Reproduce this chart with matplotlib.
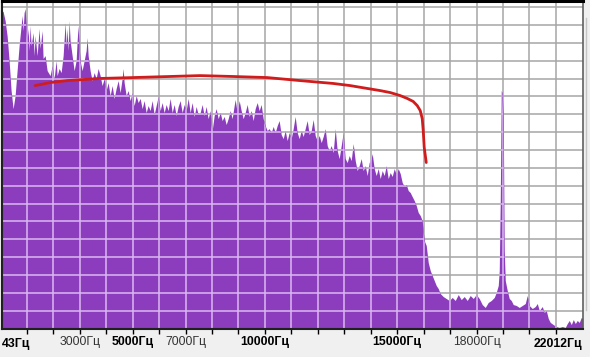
import matplotlib
matplotlib.use("Agg")
import matplotlib.pyplot as plt
from matplotlib.lines import Line2D

# spectrum: frequency (Hz) and level (grid divisions above the floor)
spec_hz = [
    43, 104, 180, 255, 331, 406, 482, 558, 633, 709, 785, 822, 860, 898, 936, 974,
    1011, 1049, 1087, 1125, 1163, 1238, 1276, 1314, 1390, 1465, 1503, 1579, 1616, 1692, 1768, 1881,
    1957, 2032, 2108, 2146, 2221, 2297, 2373, 2448, 2486, 2524, 2562, 2600, 2637, 2713, 2788, 2864,
    2902, 2940, 2978, 3015, 3091, 3167, 3242, 3280, 3318, 3393, 3469, 3545, 3620, 3696, 3772, 3847,
    3923, 3998, 4074, 4150, 4225, 4301, 4377, 4452, 4528, 4603, 4641, 4679, 4755, 4830, 4906, 4981,
    5057, 5133, 5208, 5284, 5360, 5435, 5511, 5586, 5662, 5738, 5813, 5889, 5965, 6040, 6116, 6191,
    6267, 6343, 6418, 6494, 6570, 6645, 6721, 6796, 6872, 6948, 7023, 7099, 7174, 7250, 7326, 7401,
    7477, 7553, 7628, 7704, 7779, 7855, 7931, 8006, 8082, 8157, 8233, 8309, 8384, 8460, 8536, 8611,
    8687, 8762, 8838, 8876, 8951, 9027, 9103, 9178, 9254, 9330, 9405, 9481, 9556, 9632, 9708, 9783,
    9859, 9934, 10010, 10086, 10161, 10237, 10313, 10388, 10464, 10539, 10615, 10691, 10766, 10842, 10917, 10993,
    11069, 11144, 11220, 11296, 11371, 11447, 11522, 11598, 11674, 11749, 11825, 11901, 11976, 12052, 12127, 12203,
    12279, 12354, 12430, 12505, 12581, 12657, 12732, 12808, 12884, 12959, 13035, 13110, 13186, 13262, 13337, 13413,
    13489, 13564, 13640, 13715, 13791, 13867, 13942, 14018, 14056, 14131, 14207, 14283, 14358, 14434, 14510, 14585,
    14661, 14736, 14812, 14888, 14963, 15039, 15115, 15190, 15266, 15341, 15417, 15493, 15568, 15644, 15720, 15795,
    15871, 15946, 16022, 16098, 16173, 16249, 16324, 16400, 16476, 16551, 16627, 16740, 16854, 16967, 17081, 17194,
    17308, 17421, 17534, 17648, 17761, 17875, 17988, 18101, 18215, 18328, 18442, 18555, 18669, 18744, 18820, 18858,
    18896, 18933, 18971, 19009, 19047, 19085, 19160, 19236, 19311, 19387, 19501, 19614, 19728, 19841, 19917, 19992,
    20106, 20219, 20295, 20371, 20484, 20560, 20635, 20711, 20786, 20900, 21013, 21127, 21240, 21354, 21429, 21505,
    21581, 21656, 21732, 21807, 21883, 21959, 22012,
]
spec_level = [
    17.82, 17.76, 17.25, 16.41, 15.01, 13.33, 12.32, 13.05, 14.45, 15.85, 16.97, 17.54, 16.69, 17.70, 17.93, 16.97,
    16.13, 16.81, 15.57, 16.97, 15.85, 16.58, 15.29, 16.41, 15.29, 16.81, 15.69, 16.69, 15.13, 15.29, 14.45, 14.17,
    14.73, 14.01, 15.01, 14.17, 14.57, 14.34, 15.29, 17.14, 15.85, 16.81, 15.57, 17.25, 16.13, 15.29, 14.45, 15.01,
    16.13, 16.97, 15.85, 15.01, 14.45, 15.01, 15.57, 16.30, 15.29, 14.45, 13.89, 14.34, 14.01, 14.57, 14.17, 13.61,
    14.01, 13.33, 13.78, 13.05, 13.61, 12.89, 13.45, 13.89, 13.22, 14.01, 14.57, 13.78, 13.05, 13.33, 12.77, 13.22,
    12.49, 13.05, 12.66, 12.89, 12.32, 12.77, 12.10, 12.49, 12.21, 12.77, 11.99, 12.49, 13.00, 12.21, 12.66, 12.10,
    12.55, 12.21, 12.89, 12.10, 12.55, 11.93, 12.44, 12.77, 12.10, 12.55, 12.21, 12.89, 12.10, 12.66, 11.88, 12.44,
    11.99, 12.10, 12.55, 11.93, 12.44, 11.76, 12.21, 11.09, 11.93, 12.32, 11.76, 12.10, 11.65, 11.88, 11.43, 11.76,
    12.21, 11.76, 12.49, 12.83, 12.10, 12.77, 12.21, 11.76, 12.10, 12.55, 11.88, 12.21, 11.65, 12.32, 12.66, 12.21,
    12.55, 11.76, 11.37, 11.09, 11.20, 10.98, 11.32, 10.98, 11.37, 11.65, 10.87, 10.64, 11.09, 10.53, 10.98, 10.64,
    11.20, 11.88, 10.98, 10.64, 11.09, 10.76, 11.20, 11.65, 10.87, 11.09, 11.71, 10.81, 10.53, 10.81, 10.42, 10.76,
    11.20, 10.25, 9.97, 10.25, 9.86, 11.20, 9.97, 9.52, 10.25, 10.98, 9.52, 9.30, 9.69, 9.41, 10.36, 9.41,
    8.85, 9.13, 9.52, 8.85, 9.13, 8.57, 9.30, 9.52, 9.80, 8.96, 8.57, 8.96, 8.40, 8.85, 8.57, 9.13,
    8.40, 8.74, 8.52, 8.96, 8.63, 8.96, 8.68, 8.18, 7.96, 8.07, 7.73, 7.62, 7.39, 7.17, 6.89, 6.50,
    6.33, 6.05, 4.93, 4.65, 3.70, 3.25, 2.97, 2.69, 2.41, 2.24, 1.96, 1.79, 1.68, 1.57, 1.74, 1.57,
    1.90, 1.62, 1.79, 1.57, 1.85, 1.68, 1.90, 1.68, 1.34, 1.18, 1.46, 1.57, 1.74, 2.02, 2.41, 3.25,
    7.17, 13.33, 13.22, 11.82, 4.37, 2.69, 2.13, 1.68, 1.57, 1.34, 1.29, 1.18, 1.29, 1.40, 1.85, 1.29,
    1.12, 1.23, 1.40, 1.01, 1.23, 0.90, 1.01, 0.56, 0.34, 0.22, 0.11, 0.06, 0.11, 0.06, 0.28, 0.45,
    0.22, 0.50, 0.28, 0.45, 0.34, 0.62, 0.56,
]

# hand drawn red curve
curve_hz = [1314, 1881, 2524, 3772, 5019, 7553, 8800, 10086, 11334, 12581, 13224, 13867,
            14358, 14736, 15115, 15379, 15606, 15757, 15871, 15946, 15984, 16022, 16098]
curve_level = [13.61, 13.78, 13.89, 14.01, 14.06, 14.17, 14.12, 14.06, 13.89, 13.73, 13.61, 13.45,
               13.33, 13.22, 13.05, 12.89, 12.72, 12.49, 12.21, 11.76, 11.09, 10.14, 9.30]

tick_hz = list(range(1000, 22000, 1000))
label_hz = [3000, 5000, 7000, 10000, 15000, 18000]
bold_hz = [5000, 10000, 15000]
f_min, f_max = 43, 22012
grid_levels = list(range(1, 19))

PURPLE = "#8b3dbd"

fig = plt.figure(figsize=(5.9, 3.57), dpi=100, facecolor="#f0f0f0")
ax = fig.add_axes([1.5 / 590, 28.5 / 357, 581.2 / 590, 327.5 / 357])
ax.set_facecolor("white")
ax.set_xlim(f_min, f_max)
ax.set_ylim(0, 18.35)

# grey grid on the white part
ax.vlines(tick_hz, 0, 18.35, colors="#a6a6a6", linewidth=1.1, zorder=0.5)
ax.hlines(grid_levels, f_min, f_max, colors="#a6a6a6", linewidth=1.1, zorder=0.5)

fill = ax.fill_between(spec_hz, 0, spec_level, color=PURPLE, linewidth=0, zorder=1)
clip = fill.get_paths()[0]

# light grid over the purple
vg = ax.vlines(tick_hz, 0, 18.35, colors="#dcb8f0", linewidth=1.1, zorder=1.5)
hg = ax.hlines(grid_levels, f_min, f_max, colors="#dcb8f0", linewidth=1.1, zorder=1.5)
vg.set_clip_path(clip, ax.transData)
hg.set_clip_path(clip, ax.transData)

ax.plot(curve_hz, curve_level, color="#d01c1c", linewidth=2.0,
        solid_capstyle="round", solid_joinstyle="round", zorder=3)

ax.set_yticks([])
ax.set_xticks(tick_hz)
labels = []
for f in tick_hz:
    labels.append(f"{f}Гц" if f in label_hz else "")
ax.set_xticklabels(labels, fontfamily="Liberation Sans", fontsize=8.8)
for f, lab in zip(tick_hz, ax.get_xticklabels()):
    if f in bold_hz:
        lab.set_fontweight("bold")
        lab.set_color("black")
    else:
        lab.set_color("#333333")
ax.tick_params(axis="x", direction="out", length=3.5, width=1, color="black", pad=2)

tr = ax.get_xaxis_transform()
ax.text(f_min, -0.028, f"{f_min}Гц", transform=tr, ha="left", va="top",
        fontfamily="Liberation Sans", fontsize=8.8, fontweight="bold")
ax.text(f_max, -0.028, f"{f_max}Гц", transform=tr, ha="right", va="top",
        fontfamily="Liberation Sans", fontsize=8.8, fontweight="bold")

for side in ["left", "bottom"]:
    ax.spines[side].set_color("#202020")
    ax.spines[side].set_linewidth(1.5)
ax.spines["top"].set_color("black")
ax.spines["top"].set_linewidth(2.2)
ax.spines["right"].set_color("#606060")
ax.spines["right"].set_linewidth(1.2)

# panel edge at the right
fig.add_artist(Line2D([586 / 590, 586 / 590], [1 - 18 / 357, 1 - 310 / 357],
                      transform=fig.transFigure, color="#c4c4c4", linewidth=1))

fig.savefig("out.png", dpi=100, facecolor=fig.get_facecolor())
